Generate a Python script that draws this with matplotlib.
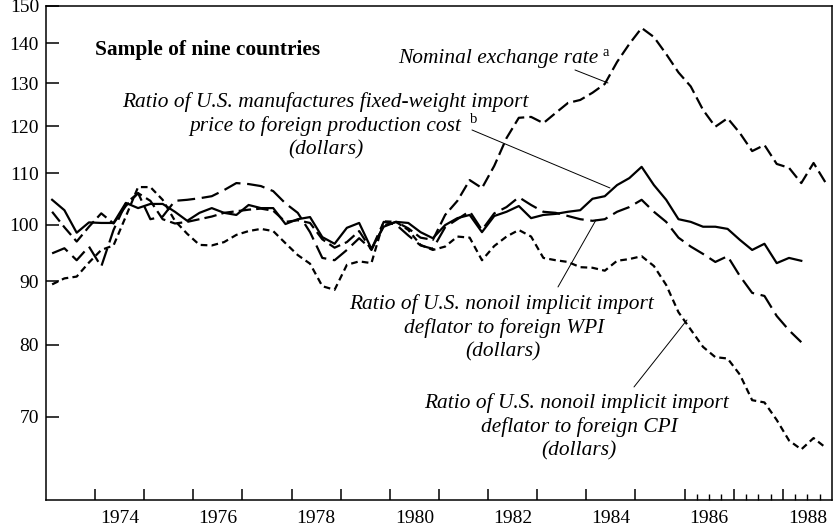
import numpy as np
import matplotlib.pyplot as plt
from matplotlib.ticker import FixedLocator, FixedFormatter, NullLocator, NullFormatter

plt.rcParams.update({
    "font.family": "Liberation Serif",
    "font.size": 14,
    "axes.linewidth": 1.1,
})

# ── Data: quarterly indexes, first point 1973 Q1 ─────────────
START = 1973.125

manuf = [104.7, 102.7, 98.5, 100.4, 100.3, 100.3, 104.1, 103.1, 103.9, 103.9,
         102.4, 100.7, 102.2, 103.1, 102.2, 101.8, 103.7, 103.1, 103.1, 100.1,
         101.0, 101.4, 97.7, 96.5, 99.4, 100.3, 95.6, 99.6, 100.5, 100.3,
         98.6, 97.5, 99.9, 101.2, 101.8, 98.6, 101.6, 102.4, 103.5, 101.2,
         101.8, 102.0, 102.4, 102.7, 104.9, 105.4, 107.6, 109.0, 111.3, 107.6,
         104.7, 101.0, 100.5, 99.6, 99.6, 99.2, 97.2, 95.4, 96.5, 93.1,
         94.0, 93.5]

exch = [102.4, 99.5, 96.9, 99.6, 102.1, 100.2, 103.5, 106.0, 104.5, 101.0,
        100.2, 100.5, 101.0, 101.5, 102.2, 102.5, 102.8, 103.0, 102.6, 100.5,
        100.8, 100.3, 97.3, 95.8, 96.8, 98.8, 95.4, 99.8, 100.5, 99.3,
        97.6, 97.2, 101.8, 104.5, 108.6, 107.0, 111.5, 117.4, 121.9, 122.1,
        120.7, 123.0, 125.3, 126.0, 127.7, 129.8, 135.2, 139.8, 144.0, 141.6,
        137.2, 132.6, 129.2, 123.7, 119.9, 121.8, 118.5, 114.6, 115.9, 111.9,
        111.1, 108.0, 112.1, 108.0]

wpi = [94.8, 95.7, 93.6, 96.0, 92.5, 99.0, 104.0, 106.0, 101.0, 101.5,
       104.5, 104.7, 105.0, 105.4, 106.6, 108.0, 107.8, 107.4, 106.4, 104.0,
       102.2, 98.6, 94.0, 93.6, 95.4, 97.5, 95.5, 100.5, 100.0, 98.0,
       96.2, 95.6, 99.5, 101.0, 102.5, 99.0, 102.1, 103.3, 105.2, 103.7,
       102.4, 102.2, 101.6, 101.0, 100.7, 101.0, 102.4, 103.3, 104.7, 102.4,
       100.5, 97.6, 96.0, 94.7, 93.3, 94.3, 90.9, 88.1, 87.6, 84.4,
       82.2, 80.4]

cpi = [89.5, 90.5, 90.8, 93.2, 95.4, 96.2, 101.5, 107.2, 107.2, 104.7,
       100.7, 98.3, 96.3, 96.2, 96.8, 98.1, 98.8, 99.2, 98.8, 96.6,
       94.5, 93.0, 89.2, 88.6, 92.8, 93.4, 93.1, 100.6, 100.5, 99.0,
       96.3, 95.4, 96.0, 97.8, 97.6, 93.6, 96.1, 97.8, 99.0, 97.8,
       94.0, 93.6, 93.3, 92.4, 92.3, 91.8, 93.5, 93.8, 94.3, 92.6,
       89.4, 85.0, 82.3, 79.7, 78.2, 78.0, 75.7, 72.2, 71.9, 69.6,
       67.0, 65.9, 67.3, 66.1]

Y_TICKS = [70, 80, 90, 100, 110, 120, 130, 140, 150]
YEAR_LABELS = [1974, 1976, 1978, 1980, 1982, 1984, 1986, 1988]


def quarters(vals):
    return START + 0.25 * np.arange(len(vals))


# ── Figure ────────────────────────────────────────────────────
fig = plt.figure(figsize=(8.36, 5.32), dpi=100)
ax = fig.add_axes([0.055, 0.0602, 0.9402, 0.9286])

LW = 1.6
ax.plot(quarters(manuf), manuf, color="black", lw=LW)
ax.plot(quarters(exch), exch, color="black", lw=LW, ls=(0, (5.6, 2.3)))
ax.plot(quarters(wpi), wpi, color="black", lw=LW, ls=(0, (8.0, 3.0)))
ax.plot(quarters(cpi), cpi, color="black", lw=LW, ls=(0, (3.0, 1.9)))

ax.set_yscale("log")
ax.set_ylim(60, 150)
ax.set_xlim(1973, 1989)

ax.yaxis.set_major_locator(FixedLocator(Y_TICKS))
ax.yaxis.set_major_formatter(FixedFormatter([str(v) for v in Y_TICKS]))
ax.yaxis.set_minor_locator(NullLocator())
ax.yaxis.set_minor_formatter(NullFormatter())
ax.tick_params(axis="y", direction="in", length=9, width=1.1, pad=5,
               labelsize=14)

ax.set_xticks(np.arange(1974, 1989))
ax.set_xticklabels([])
ax.set_xticks(np.arange(1986.25, 1989, 0.25), minor=True)
ax.tick_params(axis="x", which="major", direction="in", length=8, width=1.1)
ax.tick_params(axis="x", which="minor", direction="in", length=4, width=1.0)

sec = ax.secondary_xaxis("bottom")
sec.set_xticks([y + 0.5 for y in YEAR_LABELS])
sec.set_xticklabels([str(y) for y in YEAR_LABELS])
sec.tick_params(length=0, pad=7, labelsize=14)
sec.spines["bottom"].set_visible(False)


# ── Labels (positions in pixels of the 836x532 canvas) ───────
def P(x, y):
    return ((x - 46) / 786, (500 - y) / 494)


def label(x, y, s, ha="center", size=15.4, style="italic"):
    ax.text(*P(x, y), s, transform=ax.transAxes, ha=ha, va="center",
            style=style, fontsize=size)


def leader(x0, y0, x1, y1):
    ax.annotate("", xy=P(x1, y1), xytext=P(x0, y0), xycoords="axes fraction",
                textcoords="axes fraction",
                arrowprops=dict(arrowstyle="-", lw=0.7, color="black",
                                shrinkA=0, shrinkB=0))


ax.text(*P(95, 50), "Sample of nine countries", transform=ax.transAxes,
        ha="left", va="center", fontsize=15.4, fontweight="bold")

label(598.5, 59, "Nominal exchange rate", ha="right")
label(603, 53, "a", ha="left", size=10.5, style="normal")
leader(575, 70, 608, 83)

label(325, 102.5, "Ratio of U.S. manufactures fixed-weight import")
label(325, 126, "price to foreign production cost")
label(470, 120, "b", ha="left", size=10.5, style="normal")
label(326, 150, "(dollars)")
leader(472, 130, 610, 188)

label(502, 304, "Ratio of U.S. nonoil implicit import")
label(504, 328, "deflator to foreign WPI")
label(503, 352, "(dollars)")
leader(558, 287, 596, 220)

label(577, 403, "Ratio of U.S. nonoil implicit import")
label(579, 427, "deflator to foreign CPI")
label(579, 451, "(dollars)")
leader(634, 387, 687, 320)

fig.savefig("out.png", dpi=100)
